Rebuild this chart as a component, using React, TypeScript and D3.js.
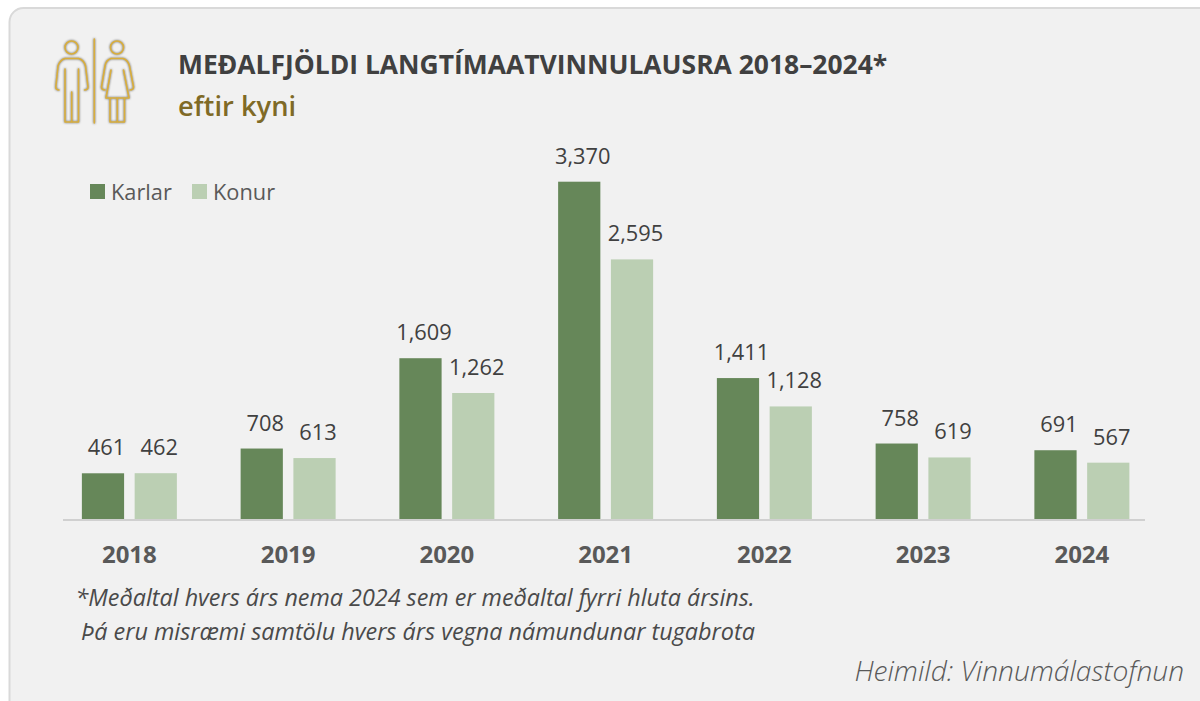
import React from "react";
import * as d3 from "d3";

const years = ["2018", "2019", "2020", "2021", "2022", "2023", "2024"];
const karlar = [461, 708, 1609, 3370, 1411, 758, 691];
const konur = [462, 613, 1262, 2595, 1128, 619, 567];
const seriesNames = ["Karlar", "Konur"];
const seriesColors = ["#668759", "#bbcfb3"];
const title = "MEÐALFJÖLDI LANGTÍMAATVINNULAUSRA 2018–2024*";
const subtitle = "eftir kyni";
const note1 = "*Meðaltal hvers árs nema 2024 sem er meðaltal fyrri hluta ársins.";
const note2 = "Þá eru misræmi samtölu hvers árs vegna námundunar tugabrota";
const source = "Heimild: Vinnumálastofnun";

const font = "'Open Sans', sans-serif";
const fmt = d3.format(",");

export default function App() {
  const x = d3.scaleBand<string>().domain(years).range([50, 1161.25]);
  const inner = d3.scaleBand<string>().domain(seriesNames).range([-47.5, 47.5]).paddingInner(0.2);
  const y = d3.scaleLinear().domain([0, 3370]).range([519.5, 181.7]);
  const series = [karlar, konur];
  return (
    <svg width={1200} height={701} style={{ position: "absolute", left: 0, top: 0 }} fontFamily={font}>
      <rect x={0} y={0} width={1200} height={701} fill="#ffffff" />
      <rect x={9.5} y={8} width={1300} height={760} rx={14} fill="#f1f1f1" stroke="#d9d9d9" strokeWidth={2} />
      <g fill="none" stroke="#d9ae3c" strokeWidth={1.6} strokeLinejoin="round" strokeLinecap="round" style={{ filter: "drop-shadow(0 0 0.8px #666)" }}>
        <line x1={94.3} y1={39} x2={94.3} y2={123} />
        <circle cx={71.5} cy={47.5} r={6.5} />
        <path d="M65,122 L65,69 M65,122 L78.5,122 L78.5,69 M71.7,122 L71.7,92 M65,58.5 Q60,60 58,66 L55.8,87 Q55.8,90 59,90 M78.5,58.5 Q84,60 85.5,66 L88,87 Q88,90 84.5,90 M65,58.5 L78.5,58.5" />
        <circle cx={117} cy={47.5} r={6.5} />
        <path d="M110,122 L110,98 M110,122 L124.5,122 L124.5,98 M117.3,122 L117.3,98 M106,98 L129,98 L123.5,70 M106,98 L111,70 M111,58.5 L123,58.5 Q128,60 129.5,66 L133.5,87 Q133.5,90 130,90 M111,58.5 Q106,60 105,66 L101.5,87 Q101.5,90 105,90" />
      </g>
      <text x={178} y={74} fontSize={26.45} fontWeight={700} fill="#404040">{title}</text>
      <text x={178} y={116} fontSize={27.3} fontWeight={600} fill="#7f6a26">{subtitle}</text>
      {seriesNames.map((name, i) => (
        <g key={name}>
          <rect x={i === 0 ? 90 : 192} y={184} width={15} height={15} fill={seriesColors[i]} />
          <text x={i === 0 ? 111 : 213} y={200} fontSize={21.8} fill="#595959">{name}</text>
        </g>
      ))}
      {years.map((yr, i) => {
        const cx = x(yr)! + x.bandwidth() / 2;
        return (
          <g key={yr}>
            {seriesNames.map((name, s) => {
              const v = series[s][i];
              const bx = cx + inner(name)!;
              return (
                <g key={name}>
                  <rect x={bx} y={y(v)} width={inner.bandwidth()} height={y(0) - y(v)} fill={seriesColors[s]} />
                  <text x={bx + inner.bandwidth() / 2 + 3.5} y={y(v) - 18} fontSize={21.8} textAnchor="middle" fill="#404040">{fmt(v)}</text>
                </g>
              );
            })}
            <text x={cx} y={562.5} fontSize={24} fontWeight={700} textAnchor="middle" fill="#595959">{yr}</text>
          </g>
        );
      })}
      <line x1={63} x2={1145} y1={520} y2={520} stroke="#d0d0d0" strokeWidth={2} />
      <text x={75.5} y={606} fontSize={23.35} fontStyle="italic" fill="#4a4a4a">{note1}</text>
      <text x={81} y={640} fontSize={23.4} fontStyle="italic" fill="#4a4a4a">{note2}</text>
      <text x={1184} y={681} fontSize={28.2} fontStyle="italic" fontWeight={300} textAnchor="end" fill="#595959">{source}</text>
    </svg>
  );
}
